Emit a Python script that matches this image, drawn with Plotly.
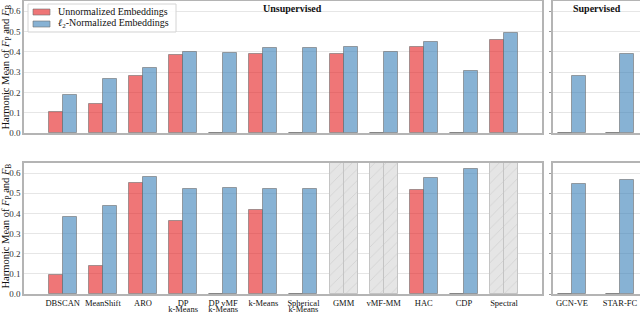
import plotly.graph_objects as go

# ---------------- data ----------------
unsup_line1 = ["DBSCAN", "MeanShift", "ARO", "DP", "DP vMF", "k-Means",
               "Spherical", "GMM", "vMF-MM", "HAC", "CDP", "Spectral"]
unsup_line2 = ["", "", "", "k-Means", "k-Means", "", "k-Means", "", "", "", "", ""]
sup_cats = ["GCN-VE", "STAR-FC"]

top_unnorm = [0.102, 0.141, 0.279, 0.384, 0.0, 0.387, 0.0, 0.389, 0.0, 0.423, 0.0, 0.457]
top_norm = [0.185, 0.266, 0.321, 0.397, 0.392, 0.418, 0.421, 0.423, 0.397, 0.446, 0.303, 0.490]
bot_unnorm = [0.094, 0.137, 0.549, 0.364, 0.0, 0.415, 0.0, None, None, 0.516, 0.0, None]
bot_norm = [0.382, 0.436, 0.579, 0.522, 0.524, 0.522, 0.522, None, None, 0.577, 0.618, None]

top_sup_unnorm = [0.0, 0.0]
top_sup_norm = [0.280, 0.389]
bot_sup_unnorm = [0.0, 0.0]
bot_sup_norm = [0.547, 0.564]

y_ticks = [0.0, 0.1, 0.2, 0.3, 0.4, 0.5, 0.6]
y_max = 0.65

legend_names = ["Unnormalized Embeddings", "<i>ℓ</i><sub>2</sub>-Normalized Embeddings"]

RED = "rgba(228,26,28,0.6)"
BLUE = "rgba(55,126,184,0.6)"
EDGE = "rgba(110,110,110,0.6)"
SERIF = "Liberation Serif"

W, H = 640, 312

def px_x(p):
    return p / W

def px_y(p):
    return (H - p) / H

fig = go.Figure()

def add_pair(xa, ya, unnorm, norm, width):
    xs = list(range(len(norm)))
    fig.add_trace(go.Bar(x=xs, y=unnorm, width=width, offset=-width, xaxis=xa, yaxis=ya,
                         marker=dict(color=RED, line=dict(color=EDGE, width=1)),
                         name="Unnormalized Embeddings", showlegend=False))
    fig.add_trace(go.Bar(x=xs, y=norm, width=width, offset=0, xaxis=xa, yaxis=ya,
                         marker=dict(color=BLUE, line=dict(color=EDGE, width=1)),
                         name="l2-Normalized Embeddings", showlegend=False))

def add_na(xa, ya, unnorm, norm, width):
    xs, offs = [], []
    for i, (a, b) in enumerate(zip(unnorm, norm)):
        if a is None and b is None:
            xs += [i, i]
            offs += [-width, 0]
    if not xs:
        return
    fig.add_trace(go.Bar(x=xs, y=[y_max] * len(xs), width=width, offset=offs, xaxis=xa, yaxis=ya,
                         marker=dict(color="#e4e4e4",
                                     pattern=dict(shape="/", fgcolor="#bdbdbd", bgcolor="#e5e5e5",
                                                  size=8, solidity=0.1),
                                     line=dict(color="#c4c4c4", width=1)),
                         showlegend=False, hoverinfo="skip"))

add_pair("x", "y", top_unnorm, top_norm, 0.35)
add_pair("x2", "y2", top_sup_unnorm, top_sup_norm, 0.3)
add_na("x3", "y3", bot_unnorm, bot_norm, 0.35)
add_pair("x3", "y3", bot_unnorm, bot_norm, 0.35)
add_pair("x4", "y4", bot_sup_unnorm, bot_sup_norm, 0.3)

two_line = [i for i, t in enumerate(unsup_line2) if t]
# invisible trace so that the second-line label axis is drawn
fig.add_trace(go.Scatter(x=two_line, y=[0] * len(two_line), xaxis="x5", yaxis="y3",
                         mode="markers", marker=dict(opacity=0), showlegend=False,
                         hoverinfo="skip"))

left_dom = [px_x(24), px_x(542)]
right_dom = [px_x(553), 1.0]
top_dom = [px_y(133), px_y(1)]
bot_dom = [px_y(294), px_y(163)]

LINE = "#b4b4b4"
TICKFONT = dict(family=SERIF, size=8.5, color="#111")

def xaxis(dom, anchor, rng, vals, text, show):
    return dict(domain=dom, anchor=anchor, range=rng, tickmode="array",
                tickvals=vals, ticktext=text, showticklabels=show,
                showgrid=False, zeroline=False, showline=True, linecolor=LINE, linewidth=1.5,
                mirror=True, ticks="", tickangle=0, automargin=False, tickfont=TICKFONT)

def yaxis(dom, anchor, labels, ticklen=0):
    return dict(domain=dom, anchor=anchor, range=[0, y_max], tickmode="array", tickvals=y_ticks,
                ticktext=[f"{v:.1f}" for v in y_ticks], showticklabels=labels,
                showgrid=True, gridcolor="#e6e6e6", gridwidth=1, zeroline=False,
                showline=True, linecolor=LINE, linewidth=1.5, mirror=True, automargin=False,
                ticks="outside" if ticklen else "", ticklen=ticklen, tickcolor="#999",
                tickfont=dict(family=SERIF, size=9, color="#333"))

left_range = [-0.965, 11.946]
right_range = [-0.396, 1.417]
idx_u = list(range(len(unsup_line1)))
idx_s = list(range(len(sup_cats)))

fig.update_layout(
    width=W, height=H, margin=dict(l=0, r=0, t=0, b=0, autoexpand=False),
    plot_bgcolor="white", paper_bgcolor="white", barmode="overlay", bargap=0,
    showlegend=False,
    xaxis=xaxis(left_dom, "y", left_range, idx_u, unsup_line1, False),
    xaxis2=xaxis(right_dom, "y2", right_range, idx_s, sup_cats, False),
    xaxis3=xaxis(left_dom, "y3", left_range, idx_u, unsup_line1, True),
    xaxis4=xaxis(right_dom, "y4", right_range, idx_s, sup_cats, True),
    xaxis5=dict(domain=left_dom, anchor="y3", overlaying="x3", range=left_range,
                tickmode="array", tickvals=two_line, ticktext=[unsup_line2[i] for i in two_line],
                showgrid=False, zeroline=False, showline=False, ticks="", tickangle=0,
                automargin=False, tickfont=TICKFONT, ticklabelstandoff=8, side="bottom"),
    yaxis=yaxis(top_dom, "x", True),
    yaxis2=yaxis(top_dom, "x2", False, 2),
    yaxis3=yaxis(bot_dom, "x3", True),
    yaxis4=yaxis(bot_dom, "x4", False, 2),
)

# legend (drawn box, colour patches and labels)
fig.add_shape(type="rect", xref="paper", yref="paper", x0=px_x(28), x1=px_x(176),
              y0=px_y(32), y1=px_y(4), line=dict(color="#d4d4d4", width=1),
              fillcolor="rgba(255,255,255,0.85)", layer="above")
for k, (col, yc) in enumerate([(RED, 12), (BLUE, 24)]):
    fig.add_shape(type="rect", xref="paper", yref="paper", x0=px_x(33), x1=px_x(50),
                  y0=px_y(yc + 3), y1=px_y(yc - 3), line=dict(color=EDGE, width=1),
                  fillcolor=col, layer="above")
    fig.add_annotation(text=legend_names[k], xref="paper", yref="paper", x=px_x(56),
                       y=px_y(yc), showarrow=False, xanchor="left", yanchor="middle",
                       font=dict(family=SERIF, size=10, color="#111"))

ylabel = "Harmonic Mean of <i>F</i><sub>P</sub> and <i>F</i><sub>B</sub>"
for yc in [67, 226]:
    fig.add_annotation(text=ylabel, xref="paper", yref="paper", x=px_x(5.5), y=px_y(yc),
                       textangle=-90, showarrow=False, xanchor="center", yanchor="middle",
                       font=dict(family=SERIF, size=10.5, color="#111"))

fig.add_annotation(text="<b>Unsupervised</b>", xref="paper", yref="paper", x=px_x(292), y=px_y(8),
                   showarrow=False, xanchor="center", yanchor="middle",
                   font=dict(family=SERIF, size=10, color="#111"))
fig.add_annotation(text="<b>Supervised</b>", xref="paper", yref="paper", x=px_x(597), y=px_y(8),
                   showarrow=False, xanchor="center", yanchor="middle",
                   font=dict(family=SERIF, size=10, color="#111"))

fig.write_html("out.html", config={"displayModeBar": False},
               post_script="document.body.style.margin='0px';")
